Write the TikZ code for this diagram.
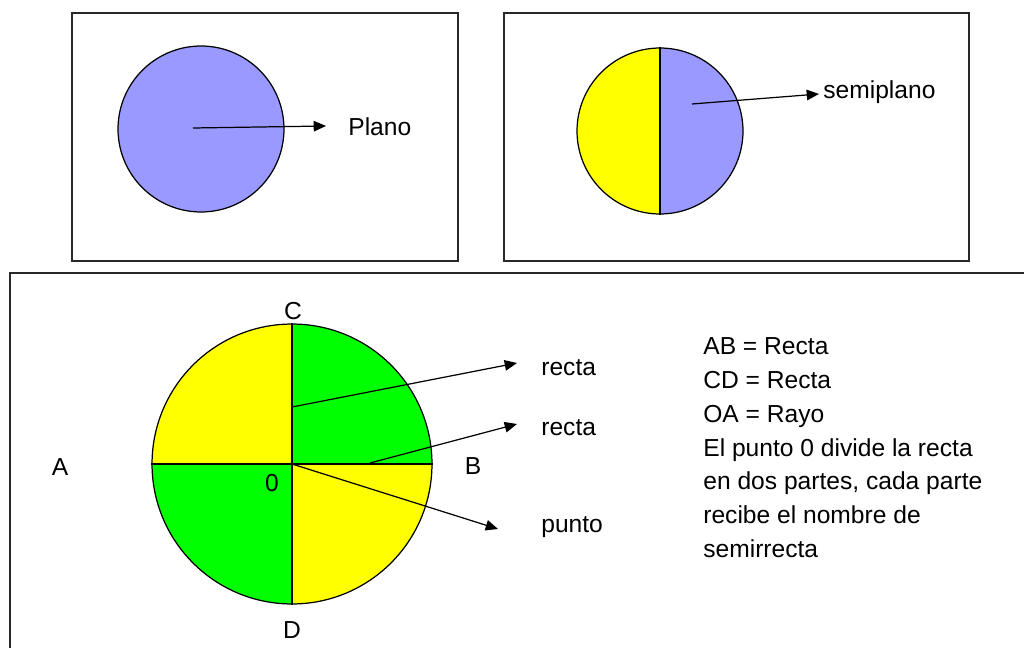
\documentclass[tikz,border=0pt]{standalone}
\usepackage{fontspec}
\setmainfont{Liberation Sans}
\usetikzlibrary{arrows.meta, positioning}
\definecolor{planeblue}{RGB}{153,153,255}
\definecolor{halfyellow}{RGB}{255,255,0}
\definecolor{quadgreen}{RGB}{0,255,0}
\definecolor{framegray}{RGB}{40,40,40}
\tikzset{
  frame/.style={draw=framegray, line width=1.1pt},
  disc/.style={circle, draw=black, line width=0.7pt, inner sep=0pt},
  arrow/.style={-{Triangle[length=7pt, width=6pt]}, line width=0.7pt, color=black},
  lbl/.style={font=\fontsize{14}{19.3}\selectfont, inner sep=0pt},
  tag/.style={lbl, anchor=west}
}

\begin{document}
\begin{tikzpicture}[x=0.02cm, y=-0.02cm]

  \clip (0,0) rectangle (1024,648);
  \fill[white] (0,0) rectangle (1024,648);

  %% ── Frames ──────────────────────────────────────────────────────────────
  \draw[frame] (72,13) rectangle (458,261);
  \draw[frame] (504,13) rectangle (969,261);
  \draw[frame] (10,273) rectangle (1040,670);

  %% ── Plano ───────────────────────────────────────────────────────────────
  \node[disc, fill=planeblue, minimum size=3.32cm] (plane) at (201,129) {};
  \node[tag] (planolbl) at (348,127) {Plano};
  \coordinate (planoStart) at (193,128);
  \coordinate (planoTip)   at (326,126);
  \draw[arrow] (planoStart) -- (planoTip);

  %% ── Semiplano ───────────────────────────────────────────────────────────
  \coordinate (semiC) at (660,131);
  \begin{scope}
    \clip (semiC) circle[radius=1.66cm];
    \fill[halfyellow] (semiC) rectangle ++(-100,-100);
    \fill[halfyellow] (semiC) rectangle ++(-100,100);
    \fill[planeblue]  (semiC) rectangle ++(100,-100);
    \fill[planeblue]  (semiC) rectangle ++(100,100);
  \end{scope}
  \node[disc, minimum size=3.32cm] (halfplane) at (semiC) {};
  \draw[line width=0.7pt] (halfplane.north) -- (halfplane.south);
  \node[tag] (semilbl) at (823,92) {semiplano};
  \coordinate (semiStart) at (692,104);
  \coordinate (semiTip)   at (819,94);
  \draw[arrow] (semiStart) -- (semiTip);

  %% ── Recta y semirrecta ──────────────────────────────────────────────────
  \coordinate (O) at (292,464);
  \begin{scope}
    \clip (O) circle[radius=2.8cm];
    \fill[halfyellow] (O) rectangle ++(-150,-150);
    \fill[quadgreen]  (O) rectangle ++(150,-150);
    \fill[quadgreen]  (O) rectangle ++(-150,150);
    \fill[halfyellow] (O) rectangle ++(150,150);
  \end{scope}
  \node[disc, minimum size=5.6cm] (big) at (O) {};
  \draw[line width=0.7pt] (big.west) -- (big.east);
  \draw[line width=0.7pt] (big.north) -- (big.south);

  \node[lbl] (C) at (293,311) {C};
  \node[lbl] (D) at (292,630) {D};
  \node[lbl] (zero) at (272,483) {0};
  \node[lbl] (B) at (473,466) {B};
  \node[lbl] (A) at (60,467) {A};

  \node[tag] (recta1) at (541,368) {recta};
  \node[tag] (recta2) at (541,428) {recta};
  \node[tag] (punto)  at (541,527) {punto};

  \coordinate (r1Start) at (292,407);
  \coordinate (r1Tip)   at (517,363);
  \coordinate (r2Start) at (370,463);
  \coordinate (r2Tip)   at (517,424);
  \coordinate (pTip)    at (498,529);
  \draw[arrow] (r1Start) -- (r1Tip);
  \draw[arrow] (r2Start) -- (r2Tip);
  \draw[arrow] (O) -- (pTip);

  %% ── Explanation ─────────────────────────────────────────────────────────
  \node[lbl, align=left, anchor=north west] (notes) at (703,337)
        {AB = Recta\\
         CD = Recta\\
         OA = Rayo\\
         El punto 0 divide la recta\\
         en dos partes, cada parte\\
         recibe el nombre de\\
         semirrecta};

\end{tikzpicture}
\end{document}
